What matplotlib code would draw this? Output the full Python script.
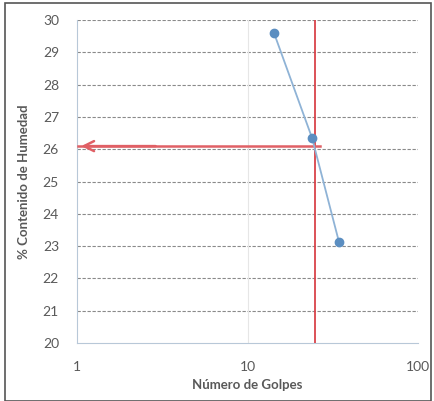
import matplotlib
matplotlib.use("Agg")
import matplotlib.pyplot as plt
from matplotlib.patches import Rectangle

golpes = [14.3, 23.9, 34.4]
humedad = [29.6, 26.35, 23.12]
golpes_ref = 25
humedad_ref = 26.1
y_ticks = [20, 21, 22, 23, 24, 25, 26, 27, 28, 29, 30]
x_ticks = [1, 10, 100]
x_label = "Número de Golpes"
y_label = "% Contenido de Humedad"

plt.rcParams['font.family'] = ['Lato', 'DejaVu Sans']
txt = '#595959'

fig = plt.figure(figsize=(4.34, 4.01), dpi=100)
fig.patch.set_facecolor('white')
ax = fig.add_axes([0.1774, 0.1446, 0.786, 0.805])

ax.set_xscale('log')
ax.set_xlim(1, 100)
ax.set_ylim(20, 30)
ax.set_yticks(y_ticks)
ax.set_yticklabels([str(v) for v in y_ticks])
ax.set_xticks(x_ticks)
ax.set_xticklabels([str(v) for v in x_ticks])
ax.minorticks_off()

for v in y_ticks[1:]:
    ax.axhline(v, color='#8a8a8a', lw=0.8, ls=(0, (3, 1.5)), zorder=1)
ax.axvline(10, color='#e6e6e6', lw=0.8, zorder=1)

for s in ['top', 'right']:
    ax.spines[s].set_visible(False)
ax.spines['left'].set_color('#b8c8d8')
ax.spines['bottom'].set_color('#b8c8d8')
ax.tick_params(length=0, pad=13, labelsize=10, colors=txt)

ax.plot(golpes, humedad, color='#8fb3d6', lw=1.3, marker='o', ms=6,
        mfc='#5b8ec1', mec='#5b8ec1', zorder=4)

ax.axvline(golpes_ref, color='#d9434a', lw=1.3, zorder=3)
ax.plot([1.02, 26.5], [humedad_ref, humedad_ref], color='#e06065', lw=1.8, zorder=3)
ax.annotate('', xy=(1.02, humedad_ref), xytext=(3, humedad_ref),
            arrowprops=dict(arrowstyle='->', color='#e06065', lw=1.8,
                            mutation_scale=18), zorder=3)

ax.set_xlabel(x_label, fontsize=9.5, color=txt, fontweight='bold', labelpad=4)
ax.set_ylabel(y_label, fontsize=9.5, color=txt, fontweight='bold', labelpad=9)

fig.add_artist(Rectangle((0.012, 0.0), 0.98, 0.993, transform=fig.transFigure,
                         fill=False, edgecolor='#555555', lw=1.2))

fig.savefig('out.png', dpi=100)
